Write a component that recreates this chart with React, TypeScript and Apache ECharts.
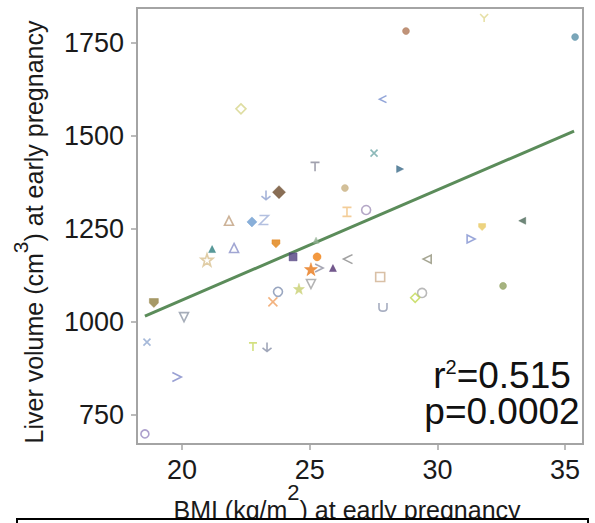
import { useEffect, useRef } from "react";
import * as echarts from "echarts";

// BMI (kg/m2) at early pregnancy
const bmi = [
  22.31, 25.21, 23.8, 23.29, 26.38, 26.46, 21.84, 22.74, 23.21, 27.21,
  28.77, 31.83, 35.39, 27.87, 27.52, 28.54, 33.32, 31.75, 31.32, 29.6,
  26.5, 25.91, 27.76, 32.57, 27.87, 29.4, 29.13, 21.18, 22.04, 23.68,
  20.98, 24.35, 25.25, 25.29, 25.05, 25.37, 23.76, 23.56, 24.58, 25.05,
  18.9, 20.08, 18.63, 22.78, 23.33, 19.8, 18.55,
];
// Liver volume (cm3) at early pregnancy
const liverVolume = [
  1573, 1417, 1349, 1341, 1360, 1296, 1272, 1269, 1274, 1301,
  1782, 1817, 1766, 1599, 1454, 1411, 1272, 1255, 1223, 1169,
  1169, 1145, 1121, 1097, 1040, 1078, 1065, 1196, 1199, 1210,
  1167, 1175, 1220, 1175, 1142, 1145, 1081, 1054, 1089, 1102,
  1051, 1013, 946, 933, 933, 852, 699,
];
// regression line end points
const fitBmi = [18.55, 35.35];
const fitVolume = [1016, 1513];

const xTicks = [20, 25, 30, 35];
const yTicks = [750, 1000, 1250, 1500, 1750];

// marker styles (one per subject)
const markerKinds = [
  "diamondO", "T", "diamond", "arrowDown", "circle", "I", "triangleO", "diamond", "Z", "circleO",
  "circle", "Y", "circle", "lt", "X", "triRight", "triLeft", "shield", "triRightO", "triLeftO",
  "lt", "triangle", "square", "circle", "U", "circleO", "diamondO", "triangle", "triangleO", "shield",
  "starO", "bar", "triangle", "circle", "star", "gt", "circleO", "X", "star", "triDownO",
  "shield", "triDownO", "X", "T", "arrowDown", "gt", "circleO",
];
const markerColors = [
  "#d6d48a", "#8a8a9a", "#6b4a2a", "#8fa0d0", "#c8b080", "#f0c080", "#c0a080", "#6c9bd0", "#a0b0d8", "#a090b8",
  "#b07858", "#e0d890", "#5a90a8", "#7890d0", "#70a8a8", "#3a6a88", "#4a6858", "#e8c860", "#8090d0", "#909078",
  "#8a8a8a", "#503070", "#d0b090", "#90a060", "#9098b0", "#a8a8a8", "#c0d850", "#308080", "#8a90c8", "#e08010",
  "#d8c090", "#504080", "#90b090", "#f08010", "#e87818", "#9090a0", "#8090b0", "#f0a060", "#c8d070", "#a0a0a0",
  "#908040", "#9098a8", "#90a8d0", "#c8d860", "#8890a8", "#8088c8", "#9888c0",
];
const markerSizes = [
  10, 9, 13, 9, 7, 9, 9, 10, 9, 9,
  7, 8, 7, 7, 7, 7, 7, 7, 8, 8,
  9, 7, 9, 7, 8, 9, 9, 7, 9, 8,
  12, 8, 6, 8, 13, 8, 9, 9, 11, 9,
  9, 9, 7, 8, 9, 9, 8,
];

const SYM: Record<string, { symbol: string; fill: boolean }> = {
  circle: { symbol: "circle", fill: true },
  circleO: { symbol: "circle", fill: false },
  diamond: { symbol: "diamond", fill: true },
  diamondO: { symbol: "diamond", fill: false },
  triangle: { symbol: "triangle", fill: true },
  triangleO: { symbol: "triangle", fill: false },
  square: { symbol: "rect", fill: false },
  bar: { symbol: "path://M2,0L8,0L8,10L2,10Z", fill: true },
  T: { symbol: "path://M0,0L10,0M5,0L5,10", fill: false },
  X: { symbol: "path://M0,0L10,10M10,0L0,10", fill: false },
  lt: { symbol: "path://M10,0L0,5L10,10", fill: false },
  gt: { symbol: "path://M0,0L10,5L0,10", fill: false },
  Z: { symbol: "path://M0,0L10,0L0,10L10,10", fill: false },
  U: { symbol: "path://M0,0L0,6Q0,10 5,10Q10,10 10,6L10,0", fill: false },
  Y: { symbol: "path://M0,0L5,5L10,0M5,5L5,10", fill: false },
  I: { symbol: "path://M2,0L8,0M5,0L5,10M2,10L8,10", fill: false },
  arrowDown: { symbol: "path://M5,0L5,10M1,6L5,10L9,6", fill: false },
  star: {
    symbol:
      "path://M5,0L6.2,3.6L10,3.6L7,5.9L8.1,9.5L5,7.3L1.9,9.5L3,5.9L0,3.6L3.8,3.6Z",
    fill: true,
  },
  starO: {
    symbol:
      "path://M5,0L6.2,3.6L10,3.6L7,5.9L8.1,9.5L5,7.3L1.9,9.5L3,5.9L0,3.6L3.8,3.6Z",
    fill: false,
  },
  triLeft: { symbol: "path://M10,0L0,5L10,10Z", fill: true },
  triRight: { symbol: "path://M0,0L10,5L0,10Z", fill: true },
  triLeftO: { symbol: "path://M10,0L0,5L10,10Z", fill: false },
  triRightO: { symbol: "path://M0,0L10,5L0,10Z", fill: false },
  triDownO: { symbol: "path://M0,0L10,0L5,10Z", fill: false },
  shield: { symbol: "path://M0,0L10,0L10,5L5,10L0,5Z", fill: true },
};

const FONT = "'Liberation Sans', Arial, sans-serif";

function measure(text: string, size: number): number {
  const c = document.createElement("canvas").getContext("2d");
  if (!c) return text.length * size * 0.5;
  c.font = `${size}px ${FONT}`;
  return c.measureText(text).width;
}

export default function App() {
  const ref = useRef<HTMLDivElement>(null);

  useEffect(() => {
    if (!ref.current) return;
    const chart = echarts.init(ref.current, undefined, { renderer: "svg" });

    const points = bmi.map((x, i) => {
      const s = SYM[markerKinds[i]];
      const c = markerColors[i];
      return {
        value: [x, liverVolume[i]],
        symbol: s.symbol,
        symbolSize: markerSizes[i],
        itemStyle: s.fill
          ? { color: c, borderColor: c, borderWidth: 0.5 }
          : { color: "rgba(255,255,255,0)", borderColor: c, borderWidth: 1.6 },
      };
    });

    const fitLine = fitBmi.map((x, i) => [x, fitVolume[i]]);

    // y-axis title built from three rotated pieces (main / superscript / main)
    const yT1 = "Liver volume (cm";
    const yT2 = "3";
    const yT3 = ") at early pregnancy";
    const yMainSize = 25;
    const ySupSize = 21;
    const w1 = measure(yT1, yMainSize);
    const w2 = measure(yT2, ySupSize);
    const w3 = measure(yT3, yMainSize);
    const yCenter = 232;
    const yStart = yCenter + (w1 + w2 + w3) / 2;
    const yMainX = 34;
    const ySupX = 20;
    const yTitle = [
      { t: yT1, pos: yStart, x: yMainX, size: yMainSize },
      { t: yT2, pos: yStart - w1, x: ySupX, size: ySupSize },
      { t: yT3, pos: yStart - w1 - w2, x: yMainX, size: yMainSize },
    ].map((p) => ({
      type: "text",
      x: p.x,
      y: p.pos,
      rotation: Math.PI / 2,
      z: 5,
      style: {
        text: p.t,
        align: "left",
        verticalAlign: "middle",
        fontSize: p.size,
        fontFamily: FONT,
        fill: "#1a1a1a",
      },
    }));

    chart.setOption({
      animation: false,
      backgroundColor: "#ffffff",
      grid: {
        left: 137,
        right: 12,
        top: 8,
        bottom: 79,
        containLabel: false,
        outerBoundsMode: "none",
        show: true,
        borderColor: "#a4a4a4",
        borderWidth: 2,
        backgroundColor: "#ffffff",
      },
      xAxis: {
        type: "value",
        min: 18.24,
        max: 35.7,
        axisLine: { show: false },
        splitLine: { show: false },
        axisTick: {
          show: true,
          inside: false,
          length: 6,
          customValues: xTicks,
          lineStyle: { color: "#a4a4a4", width: 1.5 },
        },
        axisLabel: {
          customValues: xTicks,
          formatter: (v: number) => String(v),
          margin: 12,
          color: "#1a1a1a",
          fontSize: 27,
          fontFamily: FONT,
        },
      },
      yAxis: {
        type: "value",
        min: 672,
        max: 1844,
        axisLine: { show: false },
        splitLine: { show: false },
        axisTick: {
          show: true,
          inside: false,
          length: 6,
          customValues: yTicks,
          lineStyle: { color: "#a4a4a4", width: 1.5 },
        },
        axisLabel: {
          customValues: yTicks,
          formatter: (v: number) => String(v),
          margin: 13,
          color: "#1a1a1a",
          fontSize: 27,
          fontFamily: FONT,
        },
      },
      series: [
        {
          type: "line",
          data: fitLine,
          symbol: "none",
          lineStyle: { color: "#5b8c5a", width: 3 },
          silent: true,
          z: 2,
        },
        {
          type: "scatter",
          data: points,
          z: 3,
        },
      ],
      graphic: [
        {
          type: "text",
          x: 347,
          y: 481.5,
          z: 5,
          style: {
            text: "{a|BMI (kg/m}{s|2}{a|) at early pregnancy}",
            align: "center",
            verticalAlign: "top",
            rich: {
              a: {
                fontSize: 25,
                fontFamily: FONT,
                fill: "#1a1a1a",
                lineHeight: 41,
                height: 25,
                verticalAlign: "bottom",
              },
              s: {
                fontSize: 22,
                fontFamily: FONT,
                fill: "#1a1a1a",
                height: 22,
                verticalAlign: "top",
              },
            },
          },
        },
        ...yTitle,
        {
          type: "text",
          x: 502,
          y: 357,
          z: 5,
          style: {
            text: "{a|r}{s|2}{a|=0.515}",
            align: "center",
            verticalAlign: "top",
            rich: {
              a: {
                fontSize: 37,
                fontFamily: FONT,
                fill: "#111111",
                lineHeight: 33,
                height: 30,
                verticalAlign: "bottom",
              },
              s: {
                fontSize: 20,
                fontFamily: FONT,
                fill: "#111111",
                height: 19,
                verticalAlign: "top",
              },
            },
          },
        },
        {
          type: "text",
          x: 502,
          y: 411,
          z: 5,
          style: {
            text: "p=0.0002",
            align: "center",
            verticalAlign: "middle",
            lineHeight: 30,
            fontSize: 37,
            fontFamily: FONT,
            fill: "#111111",
          },
        },
        {
          type: "rect",
          z: 20,
          shape: { x: 17, y: 519, width: 571, height: 24 },
          style: { fill: "#ffffff", stroke: "#000000", lineWidth: 2 },
        },
      ],
    });

    return () => chart.dispose();
  }, []);

  return (
    <div
      ref={ref}
      style={{ position: "absolute", left: 0, top: 0, width: 595, height: 523 }}
    />
  );
}
